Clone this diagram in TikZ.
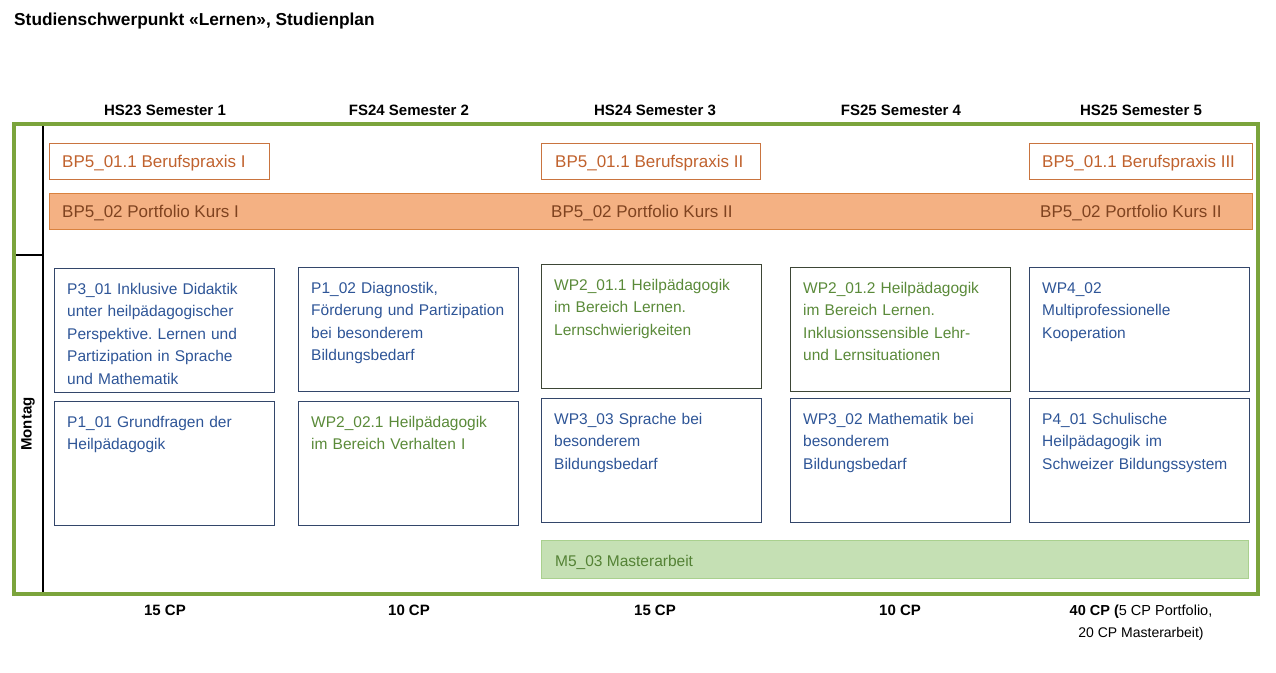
\documentclass[tikz,border=0pt]{standalone}
\usepackage{fontspec}
\setmainfont{Liberation Sans}
\frenchspacing
\definecolor{framegreen}{HTML}{7BA43C}
\definecolor{praxisline}{HTML}{C9743F}
\definecolor{praxistext}{HTML}{C0622E}
\definecolor{portfill}{HTML}{F4B183}
\definecolor{portline}{HTML}{D9823F}
\definecolor{porttext}{HTML}{7F4320}
\definecolor{modblue}{HTML}{2E5597}
\definecolor{modline}{HTML}{33466A}
\definecolor{modgreen}{HTML}{5A8A39}
\definecolor{greenline}{HTML}{3D4636}
\definecolor{mafill}{HTML}{C5E0B4}
\definecolor{maline}{HTML}{A9D08E}
\definecolor{matext}{HTML}{548235}
\newcommand\modfont{\fontsize{15.5}{22.5}\selectfont}
\newcommand\bigfont{\fontsize{17}{20}\selectfont}
\newcommand\headfont{\fontsize{15}{18}\selectfont\bfseries}

\begin{document}
\begin{tikzpicture}[x=1pt,y=-1pt,
    head/.style={font=\headfont, anchor=base, inner sep=0pt},
    praxis/.style={draw=praxisline, line width=1pt, minimum height=36pt, anchor=north west, inner sep=0pt},
    bigtxt/.style={font=\bigfont, anchor=base west, inner sep=0pt},
    modbox/.style={draw=#1, line width=1.1pt, minimum width=220pt, minimum height=124pt, anchor=north west, inner sep=0pt},
    modtxt/.style={font=\modfont, text=#1, anchor=base west, inner sep=0pt, text width=205pt, align=left}]
        \useasboundingbox (0,0) rectangle (1276,672);

        \node[anchor=base west, inner sep=0pt, font=\fontsize{17.3}{20}\selectfont\bfseries] (title) at (14,25) {Studienschwerpunkt «Lernen», Studienplan};

        \foreach \x/\t in {165/HS23 Semester 1, 409/FS24 Semester 2, 655/HS24 Semester 3, 901/FS25 Semester 4, 1141/HS25 Semester 5}
            \node[head] (sem\x) at (\x,115.5) {\t};

        \draw[line width=1.2pt] (43,124) -- (43,594);
        \draw[line width=1.2pt] (14,255) -- (43,255);
        \draw[framegreen, line width=4pt] (14,124) rectangle (1258,594);
        \node[font=\headfont, rotate=90] (montag) at (28,424) {Montag};

        \node[praxis, minimum width=220pt] (bp1) at (49,143) {};
        \node[praxis, minimum width=219pt] (bp2) at (541,143) {};
        \node[praxis, minimum width=223pt] (bp3) at (1029,143) {};
        \node[bigtxt, text=praxistext] (bp1t) at ([shift={(13,24)}]bp1.north west) {BP5\_01.1 Berufspraxis I};
        \node[bigtxt, text=praxistext] (bp2t) at ([shift={(14,24)}]bp2.north west) {BP5\_01.1 Berufspraxis II};
        \node[bigtxt, text=praxistext] (bp3t) at ([shift={(13,24)}]bp3.north west) {BP5\_01.1 Berufspraxis III};

        \node[draw=portline, fill=portfill, line width=1pt, minimum width=1203pt, minimum height=36pt, anchor=north west, inner sep=0pt] (portfolio) at (49,193) {};
        \node[bigtxt, text=porttext] (pk1) at (62,217) {BP5\_02 Portfolio Kurs I};
        \node[bigtxt, text=porttext] (pk2) at (551,217) {BP5\_02 Portfolio Kurs II};
        \node[bigtxt, text=porttext] (pk3) at (1040,217) {BP5\_02 Portfolio Kurs II};

        \foreach \n/\x/\y/\b/\col/\t in {
            m11/54/268/modline/modblue/{P3\_01 Inklusive Didaktik\\unter heilpädagogischer\\Perspektive. Lernen und\\Partizipation in Sprache\\und Mathematik},
            m12/298/267/modline/modblue/{P1\_02 Diagnostik,\\Förderung und Partizipation\\bei besonderem\\Bildungsbedarf},
            m13/541/264/greenline/modgreen/{WP2\_01.1 Heilpädagogik\\im Bereich Lernen.\\Lernschwierigkeiten},
            m14/790/267/greenline/modgreen/{WP2\_01.2 Heilpädagogik\\im Bereich Lernen.\\Inklusionssensible Lehr-\\und Lernsituationen},
            m15/1029/267/modline/modblue/{WP4\_02\\Multiprofessionelle\\Kooperation},
            m21/54/401/modline/modblue/{P1\_01 Grundfragen der\\Heilpädagogik},
            m22/298/401/modline/modgreen/{WP2\_02.1 Heilpädagogik\\im Bereich Verhalten I},
            m23/541/398/modline/modblue/{WP3\_03 Sprache bei\\besonderem\\Bildungsbedarf},
            m24/790/398/modline/modblue/{WP3\_02 Mathematik bei\\besonderem\\Bildungsbedarf},
            m25/1029/398/modline/modblue/{P4\_01 Schulische\\Heilpädagogik im\\Schweizer Bildungssystem}}{
            \node[modbox=\b] (\n) at (\x,\y) {};
            \node[modtxt=\col] (\n-t) at ([shift={(13,26)}]\n.north west) {\t};
        }

        \node[draw=maline, fill=mafill, line width=1pt, minimum width=707pt, minimum height=38pt, anchor=north west, inner sep=0pt] (master) at (541,540) {};
        \node[anchor=base west, inner sep=0pt, font=\modfont, text=matext] (mastert) at ([shift={(14,26.5)}]master.north west) {M5\_03 Masterarbeit};

        \foreach \x/\t in {165/15 CP, 409/10 CP, 655/15 CP, 900/10 CP}
            \node[head] (cp\x) at (\x,615.5) {\t};
        \node[anchor=base, inner sep=0pt, font=\fontsize{14.5}{17}\selectfont] (cp5) at (1141,615.5) {{\bfseries 40 CP (}5 CP Portfolio,};
        \node[anchor=base, inner sep=0pt, font=\fontsize{14}{17}\selectfont] (cp5b) at (1141,637) {20 CP Masterarbeit)};
    \end{tikzpicture}
\end{document}
